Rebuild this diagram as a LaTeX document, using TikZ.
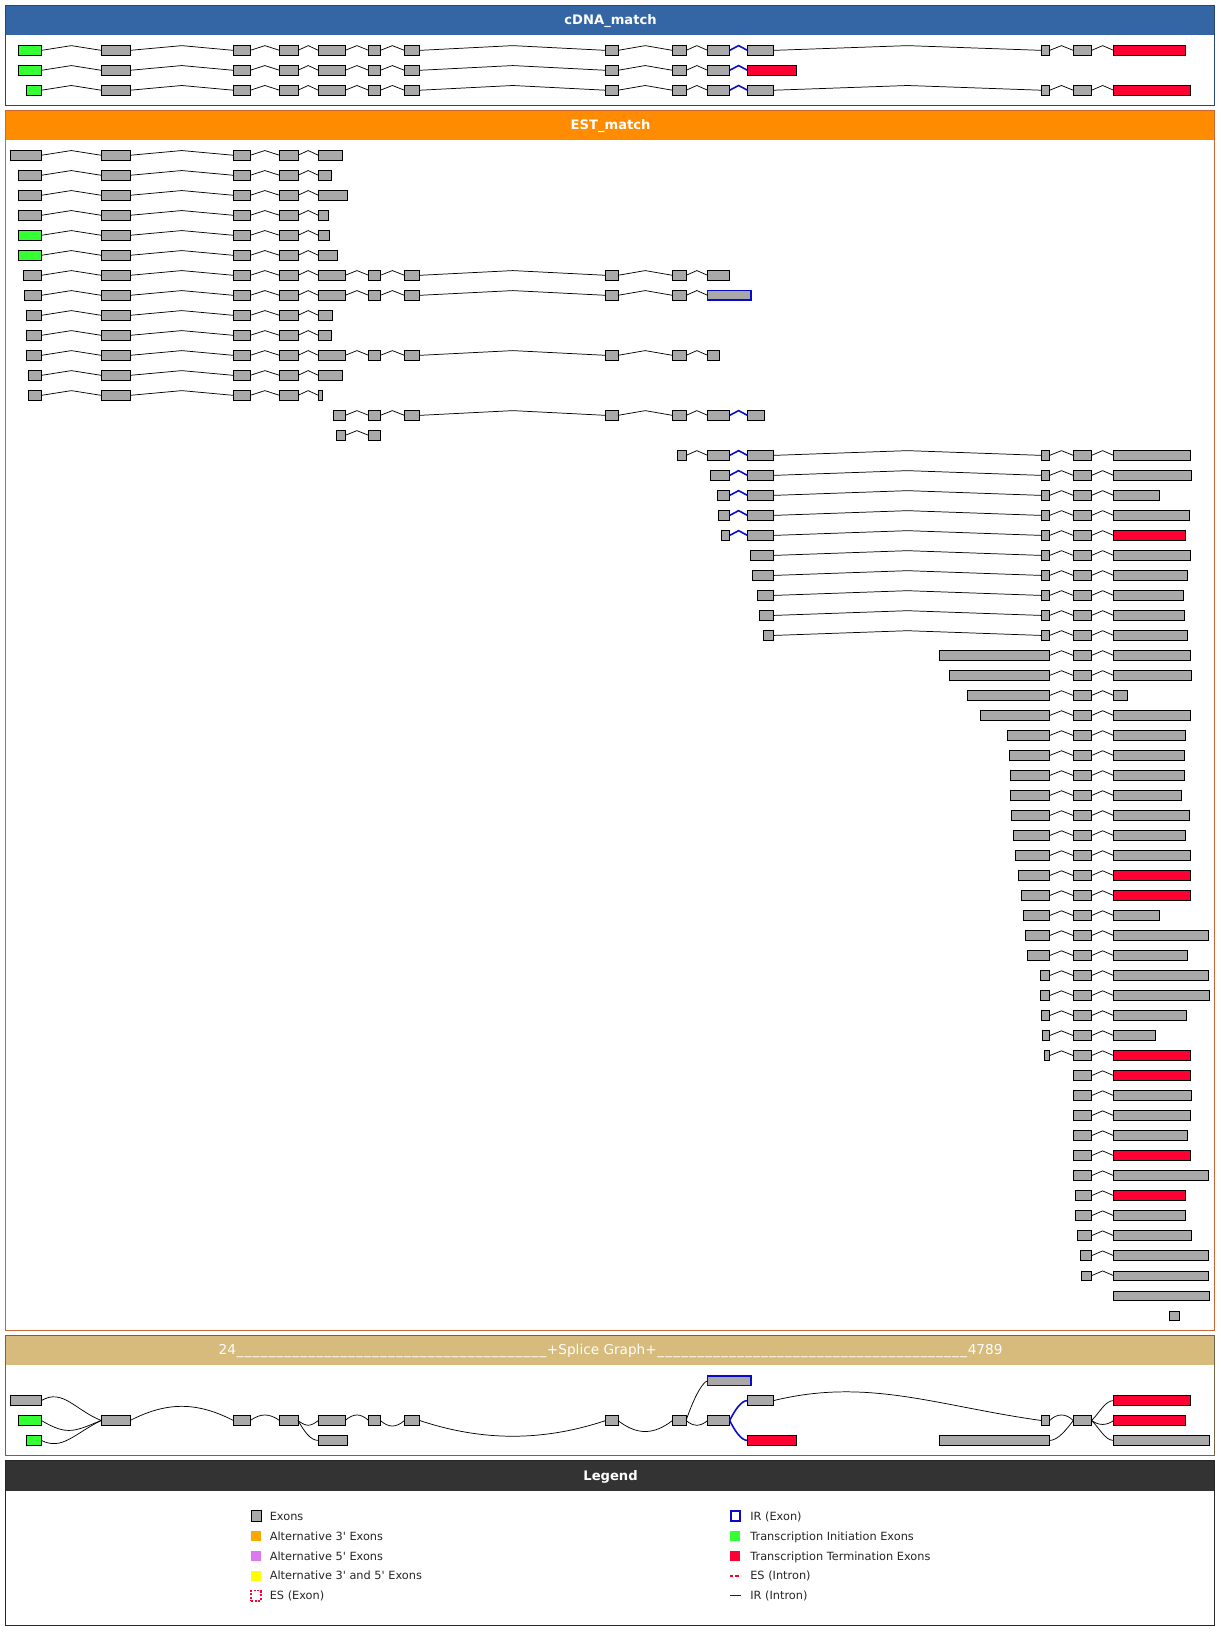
\documentclass[tikz,border=0pt]{standalone}
\usepackage{fontspec}
\setmainfont{DejaVu Sans}
\usetikzlibrary{calc}

\definecolor{exgray}{RGB}{169,169,169}
\definecolor{initgreen}{RGB}{51,255,51}
\definecolor{termred}{RGB}{255,0,51}
\definecolor{irblue}{RGB}{10,10,204}
\definecolor{cdnahead}{RGB}{52,101,164}
\definecolor{cdnaline}{RGB}{40,70,115}
\definecolor{esthead}{RGB}{255,140,0}
\definecolor{estline}{RGB}{204,102,51}
\definecolor{sghead}{RGB}{215,187,124}
\definecolor{sgline}{RGB}{115,100,72}
\definecolor{leghead}{RGB}{51,51,51}
\definecolor{alt3}{RGB}{255,165,0}
\definecolor{alt5}{RGB}{221,119,238}
\definecolor{alt35}{RGB}{255,255,0}

\tikzstyle{exon}=[rectangle, draw=black, line width=0.8pt, fill=exgray, minimum height=9pt, inner sep=0pt, outer sep=0pt]
\tikzstyle{xg}=[]
\tikzstyle{xi}=[fill=initgreen]
\tikzstyle{xt}=[fill=termred]
\tikzstyle{xr}=[draw=irblue, line width=1.6pt]
\tikzstyle{ni}=[draw=black, line width=0.7pt]
\tikzstyle{bi}=[draw=irblue, line width=1.5pt]
\tikzstyle{sgedge}=[draw=black, line width=0.7pt]
\tikzstyle{sgir}=[draw=irblue, line width=1.5pt]
\tikzstyle{headtxt}=[anchor=base, text=white, font=\fontsize{12.5}{15}\selectfont\bfseries]
\tikzstyle{legtxt}=[anchor=base west, inner sep=0pt, text=black!85, font=\fontsize{10.8}{13}\selectfont]
\tikzstyle{legkey}=[rectangle, minimum width=9.5pt, minimum height=10pt, inner sep=0pt]

% one exon: name, left, right, y, kind
\newcommand\exon[5]{\node[exon,#5,minimum width={#3-#2}] (#1) at ({(#2+#3)/2},{#4}) {};}
% one row of exons joined by introns
\newcommand\track[3]{%
  \foreach \xa/\xb/\ek/\ik [count=\k] in {#3}{
    \exon{#1x\k}{\xa}{\xb}{#2}{\ek}
    \ifnum\k>1
      \pgfmathtruncatemacro\kp{\k-1}
      \draw[\ik] (#1x\kp.east) -- ($(#1x\kp.east)!.5!(#1x\k.west)+(0,-4.5)$) -- (#1x\k.west);
    \fi
  }}
\newcommand\est[2]{\track{e#1}{148+19.07*(#1-1)}{#2}}
\newcommand\sgdashes{\foreach \i in {1,...,39}{\makebox[7.6pt][c]{\_}}}

\begin{document}
\begin{tikzpicture}[x=1pt, y=-1pt]
\useasboundingbox (0,0) rectangle (1163,1568);
% Panels
    \fill[white] (0,0) rectangle (1163,1568);
    \fill[cdnahead] (5.5,5) rectangle (1158,33.5);
    \draw[cdnaline, line width=0.9pt] (5.5,5) rectangle (1158,100.5);
    \node[headtxt] (cdnatitle) at (582,23.5) {cDNA\_match};
    \fill[esthead] (5.5,105) rectangle (1158,133.5);
    \draw[estline, line width=0.9pt] (5.5,105) rectangle (1158,1268);
    \node[headtxt] (esttitle) at (582,123.7) {EST\_match};
    \fill[sghead] (5.5,1272.5) rectangle (1158,1301.3);
    \draw[sgline, line width=0.9pt] (5.5,1272.5) rectangle (1158,1387);
    \node[headtxt, font=\fontsize{13}{15}\selectfont, text=white!97!sghead] (sgtitle) at (582,1291.5) {24\sgdashes+Splice Graph+\sgdashes4789};
    \fill[leghead] (5.5,1392) rectangle (1158,1421);
    \draw[black!85, line width=0.9pt] (5.5,1392) rectangle (1158,1549);
    \node[headtxt] (legtitle) at (582,1411) {Legend};

% cDNA_match
    \track{c1}{48}{17.5/39.5/xi/ni, 96.5/124/xg/ni, 222.5/238.5/xg/ni, 266.5/284/xg/ni, 303.5/329/xg/ni, 351.5/362.5/xg/ni, 385.5/400/xg/ni, 577.5/589/xg/ni, 641/654/xg/ni, 674.5/695.5/xg/ni, 712.5/737.5/xg/bi, 992.5/1000.5/xg/ni, 1023/1040.5/xg/ni, 1061.5/1130/xt/ni}
    \track{c2}{67}{17.5/39.5/xi/ni, 96.5/124/xg/ni, 222.5/238.5/xg/ni, 266.5/284/xg/ni, 303.5/329/xg/ni, 351.5/362.5/xg/ni, 385.5/400/xg/ni, 577.5/589/xg/ni, 641/654/xg/ni, 674.5/695.5/xg/ni, 712.5/759.3/xt/bi}
    \track{c3}{86}{25.3/39.5/xi/ni, 96.5/124/xg/ni, 222.5/238.5/xg/ni, 266.5/284/xg/ni, 303.5/329/xg/ni, 351.5/362.5/xg/ni, 385.5/400/xg/ni, 577.5/589/xg/ni, 641/654/xg/ni, 674.5/695.5/xg/ni, 712.5/737.5/xg/bi, 992.5/1000.5/xg/ni, 1023/1040.5/xg/ni, 1061.5/1134.8/xt/ni}

% EST_match
    \est{1}{10/39.5/xg/ni, 96.5/124/xg/ni, 222.5/238.5/xg/ni, 266.5/284/xg/ni, 303.5/326.7/xg/ni}
    \est{2}{17.5/39.5/xg/ni, 96.5/124/xg/ni, 222.5/238.5/xg/ni, 266.5/284/xg/ni, 303.5/316.2/xg/ni}
    \est{3}{17.5/39.5/xg/ni, 96.5/124/xg/ni, 222.5/238.5/xg/ni, 266.5/284/xg/ni, 303.5/331/xg/ni}
    \est{4}{17.5/39.5/xg/ni, 96.5/124/xg/ni, 222.5/238.5/xg/ni, 266.5/284/xg/ni, 303.5/313/xg/ni}
    \est{5}{17.5/39.5/xi/ni, 96.5/124/xg/ni, 222.5/238.5/xg/ni, 266.5/284/xg/ni, 303.5/314/xg/ni}
    \est{6}{17.5/39.5/xi/ni, 96.5/124/xg/ni, 222.5/238.5/xg/ni, 266.5/284/xg/ni, 303.5/321.6/xg/ni}
    \est{7}{22.2/39.5/xg/ni, 96.5/124/xg/ni, 222.5/238.5/xg/ni, 266.5/284/xg/ni, 303.5/329/xg/ni, 351.5/362.5/xg/ni, 385.5/400/xg/ni, 577.5/589/xg/ni, 641/654/xg/ni, 674.5/695.5/xg/ni}
    \est{8}{23.2/39.5/xg/ni, 96.5/124/xg/ni, 222.5/238.5/xg/ni, 266.5/284/xg/ni, 303.5/329/xg/ni, 351.5/362.5/xg/ni, 385.5/400/xg/ni, 577.5/589/xg/ni, 641/654/xg/ni, 674.5/716/xr/ni}
    \est{9}{25.1/39.5/xg/ni, 96.5/124/xg/ni, 222.5/238.5/xg/ni, 266.5/284/xg/ni, 303.5/316.8/xg/ni}
    \est{10}{25.1/39.5/xg/ni, 96.5/124/xg/ni, 222.5/238.5/xg/ni, 266.5/284/xg/ni, 303.5/316/xg/ni}
    \est{11}{25.1/39.5/xg/ni, 96.5/124/xg/ni, 222.5/238.5/xg/ni, 266.5/284/xg/ni, 303.5/329/xg/ni, 351.5/362.5/xg/ni, 385.5/400/xg/ni, 577.5/589/xg/ni, 641/654/xg/ni, 674.5/685.3/xg/ni}
    \est{12}{27/39.5/xg/ni, 96.5/124/xg/ni, 222.5/238.5/xg/ni, 266.5/284/xg/ni, 303.5/326.4/xg/ni}
    \est{13}{27/39.5/xg/ni, 96.5/124/xg/ni, 222.5/238.5/xg/ni, 266.5/284/xg/ni, 303.5/307.3/xg/ni}
    \est{14}{317.8/329/xg/ni, 351.5/362.5/xg/ni, 385.5/400/xg/ni, 577.5/589/xg/ni, 641/654/xg/ni, 674.5/695.5/xg/ni, 712.5/728.6/xg/bi}
    \est{15}{320.6/329/xg/ni, 351.5/362.5/xg/ni}
    \est{16}{645.5/654/xg/ni, 674.5/695.5/xg/ni, 712.5/737.5/xg/bi, 992.5/1000.5/xg/ni, 1023/1040.5/xg/ni, 1061.5/1134.6/xg/ni}
    \est{17}{677.2/695.5/xg/ni, 712.5/737.5/xg/bi, 992.5/1000.5/xg/ni, 1023/1040.5/xg/ni, 1061.5/1135.4/xg/ni}
    \est{18}{684/695.5/xg/ni, 712.5/737.5/xg/bi, 992.5/1000.5/xg/ni, 1023/1040.5/xg/ni, 1061.5/1105/xg/ni}
    \est{19}{684.7/695.5/xg/ni, 712.5/737.5/xg/bi, 992.5/1000.5/xg/ni, 1023/1040.5/xg/ni, 1061.5/1133.6/xg/ni}
    \est{20}{687.7/695.5/xg/ni, 712.5/737.5/xg/bi, 992.5/1000.5/xg/ni, 1023/1040.5/xg/ni, 1061.5/1130/xt/ni}
    \est{21}{715.4/737.5/xg/ni, 992.5/1000.5/xg/ni, 1023/1040.5/xg/ni, 1061.5/1134.6/xg/ni}
    \est{22}{717.4/737.5/xg/ni, 992.5/1000.5/xg/ni, 1023/1040.5/xg/ni, 1061.5/1131.6/xg/ni}
    \est{23}{722/737.5/xg/ni, 992.5/1000.5/xg/ni, 1023/1040.5/xg/ni, 1061.5/1127.8/xg/ni}
    \est{24}{723.8/737.5/xg/ni, 992.5/1000.5/xg/ni, 1023/1040.5/xg/ni, 1061.5/1128.7/xg/ni}
    \est{25}{727.5/737.5/xg/ni, 992.5/1000.5/xg/ni, 1023/1040.5/xg/ni, 1061.5/1132/xg/ni}
    \est{26}{895.5/1000.5/xg/ni, 1023/1040.5/xg/ni, 1061.5/1134.7/xg/ni}
    \est{27}{905/1000.5/xg/ni, 1023/1040.5/xg/ni, 1061.5/1136/xg/ni}
    \est{28}{922/1000.5/xg/ni, 1023/1040.5/xg/ni, 1061.5/1075/xg/ni}
    \est{29}{934.5/1000.5/xg/ni, 1023/1040.5/xg/ni, 1061.5/1134.7/xg/ni}
    \est{30}{960.3/1000.5/xg/ni, 1023/1040.5/xg/ni, 1061.5/1130/xg/ni}
    \est{31}{962.2/1000.5/xg/ni, 1023/1040.5/xg/ni, 1061.5/1129/xg/ni}
    \est{32}{963.1/1000.5/xg/ni, 1023/1040.5/xg/ni, 1061.5/1129/xg/ni}
    \est{33}{963.1/1000.5/xg/ni, 1023/1040.5/xg/ni, 1061.5/1126.2/xg/ni}
    \est{34}{964/1000.5/xg/ni, 1023/1040.5/xg/ni, 1061.5/1133.8/xg/ni}
    \est{35}{966/1000.5/xg/ni, 1023/1040.5/xg/ni, 1061.5/1130/xg/ni}
    \est{36}{968/1000.5/xg/ni, 1023/1040.5/xg/ni, 1061.5/1134.7/xg/ni}
    \est{37}{970.8/1000.5/xg/ni, 1023/1040.5/xg/ni, 1061.5/1134.7/xt/ni}
    \est{38}{973.7/1000.5/xg/ni, 1023/1040.5/xg/ni, 1061.5/1134.7/xt/ni}
    \est{39}{975.5/1000.5/xg/ni, 1023/1040.5/xg/ni, 1061.5/1105/xg/ni}
    \est{40}{977.4/1000.5/xg/ni, 1023/1040.5/xg/ni, 1061.5/1151.9/xg/ni}
    \est{41}{979.3/1000.5/xg/ni, 1023/1040.5/xg/ni, 1061.5/1131.9/xg/ni}
    \est{42}{991.7/1000.5/xg/ni, 1023/1040.5/xg/ni, 1061.5/1151.9/xg/ni}
    \est{43}{991.7/1000.5/xg/ni, 1023/1040.5/xg/ni, 1061.5/1152.8/xg/ni}
    \est{44}{992.7/1000.5/xg/ni, 1023/1040.5/xg/ni, 1061.5/1131/xg/ni}
    \est{45}{993.6/1000.5/xg/ni, 1023/1040.5/xg/ni, 1061.5/1101.3/xg/ni}
    \est{46}{995.5/1000.5/xg/ni, 1023/1040.5/xg/ni, 1061.5/1134.7/xt/ni}
    \est{47}{1023/1040.5/xg/ni, 1061.5/1134.7/xt/ni}
    \est{48}{1023/1040.5/xg/ni, 1061.5/1136/xg/ni}
    \est{49}{1023/1040.5/xg/ni, 1061.5/1134.7/xg/ni}
    \est{50}{1023/1040.5/xg/ni, 1061.5/1131.9/xg/ni}
    \est{51}{1023/1040.5/xg/ni, 1061.5/1134.7/xt/ni}
    \est{52}{1023/1040.5/xg/ni, 1061.5/1151.9/xg/ni}
    \est{53}{1025/1040.5/xg/ni, 1061.5/1130/xt/ni}
    \est{54}{1025/1040.5/xg/ni, 1061.5/1130/xg/ni}
    \est{55}{1027/1040.5/xg/ni, 1061.5/1135.7/xg/ni}
    \est{56}{1029.9/1040.5/xg/ni, 1061.5/1151.9/xg/ni}
    \est{57}{1030.8/1040.5/xg/ni, 1061.5/1151.9/xg/ni}
    \est{58}{1061.5/1152.8/xg/ni}
    \est{59}{1114.7/1124.2/xg/ni}

% Splice graph
    \exon{sgA1}{10}{39.5}{1335}{xg}
    \exon{sgA2}{17.5}{39.5}{1354}{xi}
    \exon{sgA3}{25.3}{39.5}{1373}{xi}
    \exon{sgB}{96.5}{124}{1354}{xg}
    \exon{sgC}{222.5}{238.5}{1354}{xg}
    \exon{sgD}{266.5}{284}{1354}{xg}
    \exon{sgE}{303.5}{329}{1354}{xg}
    \exon{sgE2}{303.5}{331}{1373}{xg}
    \exon{sgF}{351.5}{362.5}{1354}{xg}
    \exon{sgG}{385.5}{400}{1354}{xg}
    \exon{sgH}{577.5}{589}{1354}{xg}
    \exon{sgI}{641}{654}{1354}{xg}
    \exon{sgR}{674.5}{715.6}{1316}{xr}
    \exon{sgJ}{674.5}{695.5}{1354}{xg}
    \exon{sgK}{712.5}{737.5}{1335}{xg}
    \exon{sgK2}{712.5}{759.3}{1373}{xt}
    \exon{sgLx}{895.4}{1000.5}{1373}{xg}
    \exon{sgL}{992.5}{1000.5}{1354}{xg}
    \exon{sgM}{1023}{1040.5}{1354}{xg}
    \exon{sgN1}{1061.5}{1134.7}{1335}{xt}
    \exon{sgN2}{1061.5}{1130}{1354}{xt}
    \exon{sgN3}{1061.5}{1152.8}{1373}{xg}
    \draw[sgedge] (sgA1.east) .. controls +(20,-12) and +(-25,-10) .. (sgB.west);
    \draw[sgedge] (sgA2.east) .. controls +(25,15) and +(-25,10) .. (sgB.west);
    \draw[sgedge] (sgA3.east) .. controls +(20,10) and +(-25,12) .. (sgB.west);
    \draw[sgedge] (sgB.east) .. controls +(35,-18) and +(-35,-18) .. (sgC.west);
    \draw[sgedge] (sgC.east) .. controls +(10,-7) and +(-10,-7) .. (sgD.west);
    \draw[sgedge] (sgD.east) .. controls +(8,6) and +(-8,6) .. (sgE.west);
    \draw[sgedge] (sgD.east) .. controls +(6,10) and +(-8,0) .. (sgE2.west);
    \draw[sgedge] (sgE.east) .. controls +(8,-7) and +(-8,-7) .. (sgF.west);
    \draw[sgedge] (sgF.east) .. controls +(8,7) and +(-8,7) .. (sgG.west);
    \draw[sgedge] (sgG.east) .. controls +(60,20) and +(-60,20) .. (sgH.west);
    \draw[sgedge] (sgH.east) .. controls +(18,14) and +(-18,14) .. (sgI.west);
    \draw[sgedge] (sgI.east) .. controls +(6,-18) and +(-6,2) .. (sgR.west);
    \draw[sgedge] (sgI.east) .. controls +(7,6) and +(-7,6) .. (sgJ.west);
    \draw[sgir] (sgJ.east) .. controls +(5,-10) and +(-6,0) .. (sgK.west);
    \draw[sgir] (sgJ.east) .. controls +(5,10) and +(-6,0) .. (sgK2.west);
    \draw[sgedge] (sgK.east) .. controls +(90,-22) and +(-100,-14) .. (sgL.west);
    \draw[sgedge] (sgL.east) .. controls +(7,-7) and +(-7,-7) .. (sgM.west);
    \draw[sgedge] (sgLx.east) .. controls +(8,0) and +(-6,8) .. (sgM.west);
    \draw[sgedge] (sgM.east) .. controls +(8,-8) and +(-8,0) .. (sgN1.west);
    \draw[sgedge] (sgM.east) .. controls +(7,5) and +(-7,5) .. (sgN2.west);
    \draw[sgedge] (sgM.east) .. controls +(8,8) and +(-8,0) .. (sgN3.west);

% Legend
    \node[legkey, fill=exgray, draw=black, line width=0.8pt] (kexon) at (244,1445) {};
    \node[legkey, fill=alt3] (kalt3) at (244,1464) {};
    \node[legkey, fill=alt5] (kalt5) at (244,1483) {};
    \node[legkey, fill=alt35] (kalt35) at (244,1502) {};
    \node[legkey, draw=termred, line width=1.2pt, dash pattern=on 2pt off 1.5pt] (kesx) at (244,1521) {};
    \node[legtxt] (texon) at (257,1449) {Exons};
    \node[legtxt] (talt3) at (257,1468) {Alternative 3\textquotesingle{} Exons};
    \node[legtxt] (talt5) at (257,1487) {Alternative 5\textquotesingle{} Exons};
    \node[legtxt] (talt35) at (257,1506) {Alternative 3\textquotesingle{} and 5\textquotesingle{} Exons};
    \node[legtxt] (tesx) at (257,1525) {ES (Exon)};
    \node[legkey, draw=irblue, line width=1.6pt, minimum width=8.5pt, minimum height=9pt] (kirx) at (701,1445) {};
    \node[legkey, fill=initgreen] (kinit) at (701,1464) {};
    \node[legkey, fill=termred] (kterm) at (701,1483) {};
    \coordinate (kesi) at (701,1502);
    \coordinate (kiri) at (701,1521);
    \draw[termred, line width=1.5pt, dash pattern=on 3pt off 2pt] ($(kesi)+(-5,0)$) -- ($(kesi)+(5,0)$);
    \draw[irblue, line width=1.5pt] ($(kiri)+(-5,0)$) -- ($(kiri)+(5,0)$);
    \node[legtxt] (tirx) at (715,1449) {IR (Exon)};
    \node[legtxt] (tinit) at (715,1468) {Transcription Initiation Exons};
    \node[legtxt] (tterm) at (715,1487) {Transcription Termination Exons};
    \node[legtxt] (tesi) at (715,1506) {ES (Intron)};
    \node[legtxt] (tiri) at (715,1525) {IR (Intron)};

\end{tikzpicture}
\end{document}
